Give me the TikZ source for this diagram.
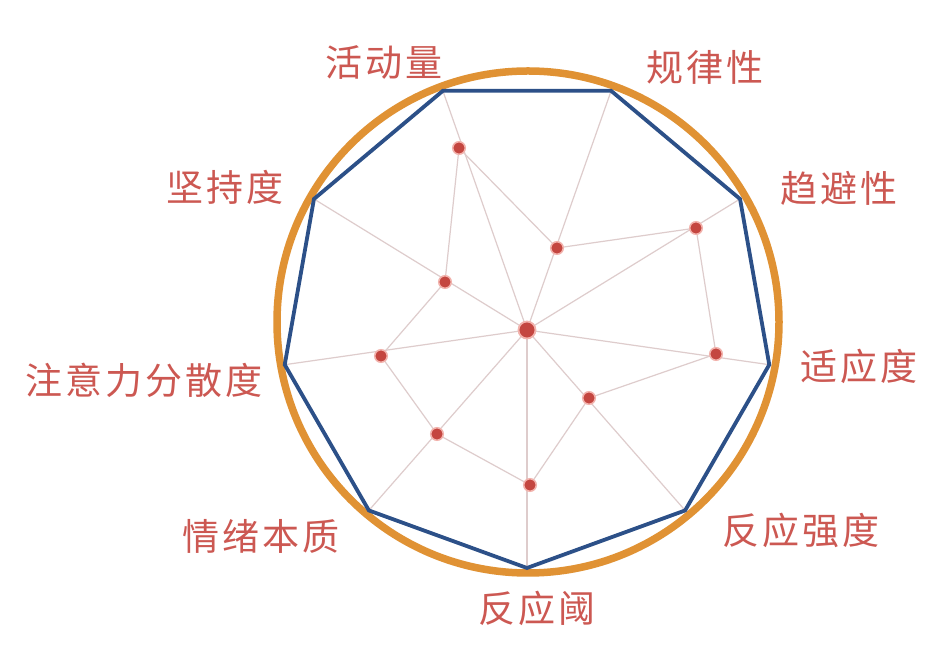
\documentclass[tikz,border=0pt]{standalone}
\usepackage{fontspec}
\usetikzlibrary{calc}
\newfontfamily\cjk[LetterSpace=8]{Noto Sans CJK SC}
\definecolor{ringorange}{RGB}{224,146,52}
\definecolor{polyblue}{RGB}{44,80,136}
\definecolor{spokecol}{RGB}{222,204,204}
\definecolor{dotred}{RGB}{196,70,64}
\definecolor{halored}{RGB}{242,178,172}
\definecolor{labelred}{RGB}{204,88,82}
\begin{document}
\begin{tikzpicture}[x=1pt,y=1pt,
  ring/.style={draw=ringorange,line width=7.5pt},
  outline/.style={draw=polyblue,line width=3.8pt,line join=miter},
  spoke/.style={draw=spokecol,line width=1.2pt},
  datadot/.style={circle,fill=dotred,draw=halored,line width=1.5pt,inner sep=0pt,minimum size=12.5pt},
  hubdot/.style={circle,fill=dotred,draw=halored,line width=1.8pt,inner sep=0pt,minimum size=17pt},
  lab/.style={font=\cjk\fontsize{37}{37}\selectfont,text=labelred,inner sep=0pt}]
\useasboundingbox (0,0) rectangle (935,645);
\fill[white] (0,0) rectangle (935,645);
\coordinate (C) at (527,323);
% orange ring
\draw[ring] (528,323) circle (251);
% outer vertices
\coordinate (v1) at ($(C)+(110:246)$);
\coordinate (v2) at ($(C)+(70:246)$);
\coordinate (v3) at ($(C)+(30:246)$);
\coordinate (v4) at ($(C)+(-10:246)$);
\coordinate (v5) at ($(C)+(-50:246)$);
\coordinate (v6) at ($(C)+(-90:246)$);
\coordinate (v7) at ($(C)+(-130:246)$);
\coordinate (v8) at ($(C)+(-170:246)$);
\coordinate (v9) at ($(C)+(150:246)$);
% data points
\coordinate (hubc) at (527,315);
\coordinate (d1) at (459,497);
\coordinate (d2) at (557,397);
\coordinate (d3) at (696,417);
\coordinate (d4) at (716,291);
\coordinate (d5) at (589,247);
\coordinate (d6) at (530,160);
\coordinate (d7) at (437,211);
\coordinate (d8) at (381,289);
\coordinate (d9) at (445,363);
% spokes
\foreach \i in {1,...,9} \draw[spoke] (hubc) -- (v\i);
% data polygon
\draw[spoke] (d1) -- (d2) -- (d3) -- (d4) -- (d5) -- (d6) -- (d7) -- (d8) -- (d9) -- cycle;
% blue outline
\draw[outline] (v1) -- (v2) -- (v3) -- (v4) -- (v5) -- (v6) -- (v7) -- (v8) -- (v9) -- cycle;
% dots
\foreach \i in {1,...,9} \node[datadot] (p\i) at (d\i) {};
\node[hubdot] (hub) at (hubc) {};
% labels
\node[lab] (l1) at (384,582) {活动量};
\node[lab] (l2) at (705,578) {规律性};
\node[lab] (l3) at (839,457) {趋避性};
\node[lab] (l4) at (859,279) {适应度};
\node[lab] (l5) at (801,115) {反应强度};
\node[lab] (l6) at (537,37) {反应阈};
\node[lab] (l7) at (261,109) {情绪本质};
\node[lab] (l8) at (144,265) {注意力分散度};
\node[lab] (l9) at (225,458) {坚持度};
\end{tikzpicture}
\end{document}
